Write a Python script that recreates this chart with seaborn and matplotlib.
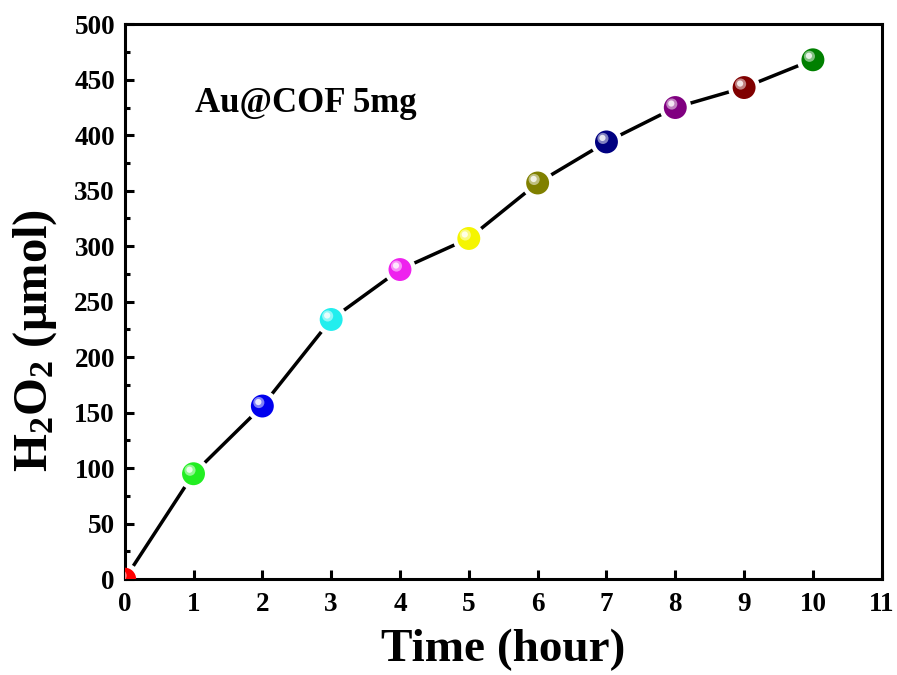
import numpy as np
import pandas as pd
import matplotlib
matplotlib.use("Agg")
import matplotlib.pyplot as plt
import matplotlib.colors as mcolors
from matplotlib.transforms import offset_copy
from matplotlib.ticker import MultipleLocator
import seaborn as sns

# ── Data ──────────────────────────────────────────────────────────
hours = [0, 1, 2, 3, 4, 5, 6, 7, 8, 9, 10]
h2o2_umol = [0, 95, 156, 234, 279, 307, 357, 394, 425, 443, 468]
point_colors = ["#ff0000", "#22ee22", "#0000ee", "#22eeee", "#ee22ee",
                "#f5f500", "#808000", "#000080", "#800080", "#800000",
                "#008000"]

# ── Style ─────────────────────────────────────────────────────────
sns.set_theme(style="ticks")
plt.rcParams.update({
    "font.family": ["Liberation Serif", "DejaVu Serif"],
    "font.weight": "bold",
    "text.color": "black",
    "axes.labelcolor": "black",
    "xtick.color": "black",
    "ytick.color": "black",
    "mathtext.fontset": "custom",
    "mathtext.rm": "Liberation Serif:bold",
    "mathtext.bf": "Liberation Serif:bold",
    "mathtext.it": "Liberation Serif:bold",
    "axes.linewidth": 2.2,
    "axes.edgecolor": "black",
})

df = pd.DataFrame({"hour": hours, "h2o2": h2o2_umol})

fig = plt.figure(figsize=(8.97, 6.75), dpi=100)
ax = fig.add_axes([0.139, 0.142, 0.844, 0.822])

sns.lineplot(data=df, x="hour", y="h2o2", color="black", lw=2.5, ax=ax,
             zorder=2)


def tint(c, f):
    r = np.array(mcolors.to_rgb(c))
    return tuple(r + (1 - r) * f)


# glossy sphere markers: white gap around, body, soft highlight
ax.scatter(hours, h2o2_umol, s=23 ** 2, c="white", edgecolors="none", zorder=3)
ax.scatter(hours, h2o2_umol, s=16.5 ** 2, c=point_colors, edgecolors="none",
           zorder=4)
hl1 = offset_copy(ax.transData, fig=fig, x=-3.5, y=3.5, units="dots")
ax.scatter(hours, h2o2_umol, s=8 ** 2, c=[tint(c, 0.5) for c in point_colors],
           edgecolors="none", transform=hl1, zorder=5)
hl2 = offset_copy(ax.transData, fig=fig, x=-4.0, y=4.0, units="dots")
ax.scatter(hours, h2o2_umol, s=4.5 ** 2, c=[tint(c, 0.9) for c in point_colors],
           edgecolors="none", transform=hl2, zorder=6)

# keep the frame above the white gap circles
for sp in ax.spines.values():
    sp.set_zorder(3.5)

ax.set_xlim(0, 11)
ax.set_ylim(0, 500)
ax.xaxis.set_major_locator(MultipleLocator(1))
ax.yaxis.set_major_locator(MultipleLocator(50))
ax.yaxis.set_minor_locator(MultipleLocator(25))
ax.tick_params(axis="both", which="major", direction="in", length=6.5,
               width=2.2, labelsize=19.5, top=False, right=False)
ax.tick_params(axis="x", which="major", pad=9)
ax.tick_params(axis="y", which="major", pad=7)
ax.tick_params(axis="y", which="minor", direction="in", length=3.5,
               width=2.2, right=False)
for lab in ax.get_xticklabels() + ax.get_yticklabels():
    lab.set_fontweight("bold")

ax.set_xlabel("Time (hour)", fontsize=34, fontweight="bold", labelpad=9)
ax.set_ylabel(r"H$_{2}$O$_{2}$ ($\mathregular{\mu}$mol)", fontsize=35,
              fontweight="bold")
ax.yaxis.set_label_coords(-0.087, 0.43)

ax.text(1.02, 429, "Au@COF 5mg", fontsize=25, fontweight="bold",
        va="center", ha="left")

fig.savefig("out.png", dpi=100)
plt.close()
